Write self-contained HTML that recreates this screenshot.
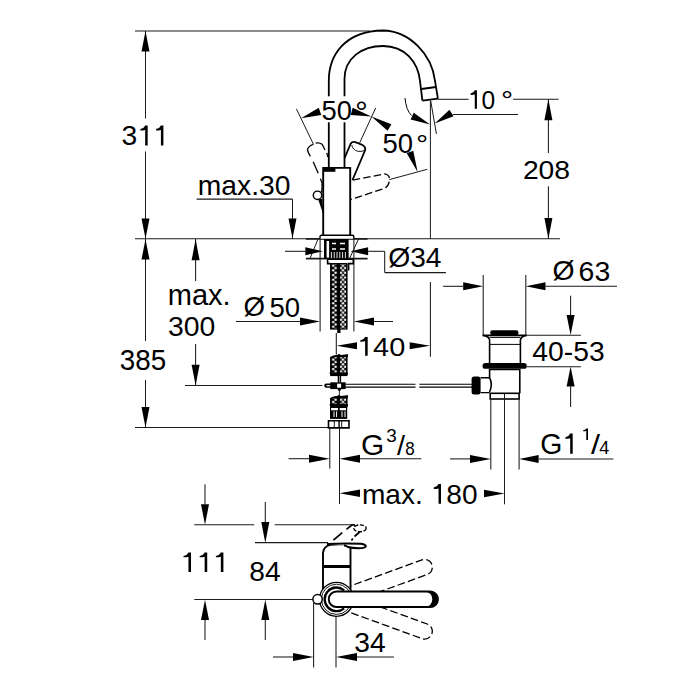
<!DOCTYPE html>
<html><head><meta charset="utf-8"><style>
html,body{margin:0;padding:0;background:#fff;width:700px;height:700px;overflow:hidden}
svg{display:block}
text{font-family:"Liberation Sans",sans-serif;fill:#000;stroke:none}
</style></head><body>
<svg width="700" height="700" viewBox="0 0 700 700" stroke="#000" fill="none">
<defs><pattern id="dots" width="30" height="4.7" patternUnits="userSpaceOnUse" x="330.3" y="264.5"><g fill="#fff" stroke="none"><circle cx="2.9" cy="1.2" r="1.25"/><circle cx="5.4" cy="3.55" r="1.25"/><circle cx="10.6" cy="3.55" r="1.25"/><circle cx="12.7" cy="1.2" r="1.25"/><circle cx="14.9" cy="3.55" r="1.25"/></g></pattern></defs>
<rect width="700" height="700" fill="#fff" stroke="none"/>
<line x1="135" y1="31" x2="370" y2="31" stroke-width="1.05" stroke="#1a1a1a" />
<line x1="135" y1="238.8" x2="560" y2="238.8" stroke-width="1.05" stroke="#1a1a1a" />
<line x1="145.5" y1="31" x2="145.5" y2="118.5" stroke-width="1.05" stroke="#1a1a1a" />
<line x1="145.5" y1="151.5" x2="145.5" y2="239" stroke-width="1.05" stroke="#1a1a1a" />
<polygon points="145.50,31.00 149.50,51.50 141.50,51.50" stroke="none" fill="#000"/>
<polygon points="145.50,238.80 141.50,218.50 149.50,218.50" stroke="none" fill="#000"/>
<line x1="145.5" y1="239" x2="145.5" y2="341" stroke-width="1.05" stroke="#1a1a1a" />
<line x1="145.5" y1="380" x2="145.5" y2="427.5" stroke-width="1.05" stroke="#1a1a1a" />
<polygon points="145.50,239.20 149.50,259.50 141.50,259.50" stroke="none" fill="#000"/>
<polygon points="145.50,427.50 141.50,407.00 149.50,407.00" stroke="none" fill="#000"/>
<line x1="135" y1="427.5" x2="329" y2="427.5" stroke-width="1.05" stroke="#1a1a1a" />
<line x1="195.6" y1="239" x2="195.6" y2="281" stroke-width="1.05" stroke="#1a1a1a" />
<line x1="195.6" y1="344" x2="195.6" y2="385.3" stroke-width="1.05" stroke="#1a1a1a" />
<polygon points="195.60,239.20 199.60,260.30 191.60,260.30" stroke="none" fill="#000"/>
<polygon points="195.60,385.30 191.60,364.70 199.60,364.70" stroke="none" fill="#000"/>
<line x1="185" y1="385.5" x2="322.4" y2="385.5" stroke-width="1.05" stroke="#1a1a1a" />
<line x1="196.6" y1="199.1" x2="292.5" y2="199.1" stroke-width="1.05" stroke="#1a1a1a" />
<line x1="292.5" y1="199.1" x2="292.5" y2="238.8" stroke-width="1.05" stroke="#1a1a1a" />
<polygon points="292.50,238.60 288.50,218.60 296.50,218.60" stroke="none" fill="#000"/>
<line x1="437.9" y1="99.3" x2="468.6" y2="99.3" stroke-width="1.05" stroke="#1a1a1a" />
<line x1="513.1" y1="99.3" x2="558.6" y2="99.3" stroke-width="1.05" stroke="#1a1a1a" />
<line x1="548.4" y1="99.3" x2="548.4" y2="152.9" stroke-width="1.05" stroke="#1a1a1a" />
<line x1="548.4" y1="186.3" x2="548.4" y2="238.8" stroke-width="1.05" stroke="#1a1a1a" />
<polygon points="548.40,99.30 552.40,120.30 544.40,120.30" stroke="none" fill="#000"/>
<polygon points="548.40,238.80 544.40,218.00 552.40,218.00" stroke="none" fill="#000"/>
<line x1="453" y1="114.4" x2="518" y2="114.4" stroke-width="1.05" stroke="#1a1a1a" />
<line x1="430.4" y1="100.7" x2="430.4" y2="238.8" stroke-width="1.0" stroke="#1a1a1a" />
<line x1="430.7" y1="100.7" x2="436.4" y2="133.9" stroke-width="1.0" stroke="#1a1a1a" />
<polygon points="430.10,124.40 410.64,119.61 413.76,112.79" stroke="none" fill="#000"/>
<polygon points="434.70,123.60 449.50,109.83 453.50,116.17" stroke="none" fill="#000"/>
<path d="M405,98 Q406,110 411.5,115.5" stroke-width="1.0" fill="none" />
<path d="M328.8,168 V81 C328.8,55 345,31 383,30.5 C410,31 432,55 435,81 L437.9,98.7" stroke-width="1.8" fill="none" />
<path d="M344.5,167.5 V79 C344.5,58 362,46 383,46 C405,46 418,62 420,81 L422.4,100.7" stroke-width="1.8" fill="none" />
<path d="M421.5,89 L436,87 M422.4,100.7 L437.9,98.7" stroke-width="1.8" fill="none" />
<rect x="326" y="96.3" width="22" height="26" rx="0" fill="#fff" stroke="none" />
<path d="M323.2,235.3 V167.9 H350.2 V235.3" stroke-width="1.9" fill="none" />
<rect x="323.2" y="167.2" width="12.2" height="4.6" rx="0" fill="#000" stroke="none" />
<path d="M310.4,156.4 Q306,149.5 308.5,147.5 Q310,145.3 312.9,144.3 M315.7,143.2 Q319,142 322.1,144.3 L325,150 M326.8,152.9 L327.9,157.1 M313.2,161.8 L318.2,173.2 M320.4,178.6 L322.5,184.3" stroke-width="1.3" fill="none" />
<circle cx="317.5" cy="195.3" r="4.2" stroke-width="1.4" fill="#fff"/>
<path d="M321.3,192.5 Q322.3,190 322,184" stroke-width="1.3" fill="none" />
<polygon points="318.2,199.4 322,198.8 323.5,215" fill="#000" stroke="none"/>
<path d="M344.6,158 L350.7,143.6 Q352.5,141.2 356,142.3 L362.5,145 Q366.2,147.2 365,150.5 L352.5,180" stroke-width="1.8" fill="none" />
<path d="M351.8,145 Q352.5,150 358,151.3 Q362.5,152 365,150" stroke-width="0.9" fill="none" />
<path d="M352.7,180.2 L384.8,173.8 Q390.5,175 389.3,181 Q388.5,187 383.6,188.6 L350.8,199.5" stroke-width="1.3" fill="none" stroke-dasharray="7.5,3.2"/>
<line x1="389.3" y1="179.6" x2="427.3" y2="169.3" stroke-width="1.0" stroke="#1a1a1a" />
<polygon points="417.60,171.90 406.73,153.25 413.27,150.75" stroke="none" fill="#000"/>
<line x1="296.4" y1="108.9" x2="313.6" y2="144.6" stroke-width="1.0" stroke="#1a1a1a" />
<polygon points="301.10,118.20 318.73,107.87 321.27,114.93" stroke="none" fill="#000"/>
<line x1="375.7" y1="107.9" x2="359.3" y2="143.6" stroke-width="1.0" stroke="#1a1a1a" />
<polygon points="371.40,116.40 350.78,115.03 352.62,107.77" stroke="none" fill="#000"/>
<polygon points="371.40,116.40 391.46,124.30 387.54,130.70" stroke="none" fill="#000"/>
<line x1="305.9" y1="238.8" x2="367.6" y2="238.8" stroke-width="1.8" stroke="#1a1a1a" />
<line x1="305.9" y1="258.7" x2="367.6" y2="258.7" stroke-width="1.8" stroke="#1a1a1a" />
<line x1="309.9" y1="258.7" x2="317.9" y2="239.3" stroke-width="1.0" stroke="#1a1a1a" />
<line x1="349.5" y1="258.7" x2="358.4" y2="239.3" stroke-width="1.0" stroke="#1a1a1a" />
<line x1="285" y1="251.3" x2="305.3" y2="251.3" stroke-width="1.05" stroke="#1a1a1a" />
<polygon points="323.00,251.30 305.30,255.30 305.30,247.30" stroke="none" fill="#000"/>
<polygon points="350.40,251.30 368.10,247.30 368.10,255.30" stroke="none" fill="#000"/>
<line x1="368.1" y1="251.3" x2="384.7" y2="251.3" stroke-width="1.05" stroke="#1a1a1a" />
<line x1="384.7" y1="251.3" x2="384.7" y2="272.6" stroke-width="1.05" stroke="#1a1a1a" />
<line x1="384.7" y1="272.6" x2="445.9" y2="272.6" stroke-width="1.05" stroke="#1a1a1a" />
<line x1="320.1" y1="239" x2="320.1" y2="331.5" stroke-width="1.05" stroke="#1a1a1a" />
<line x1="353.9" y1="239" x2="353.9" y2="331.5" stroke-width="1.05" stroke="#1a1a1a" />
<path d="M320,238.7 V236.5 Q320,235.3 321.5,235.3 H352.4 Q353.8,235.3 353.8,236.5 V238.7" stroke-width="1.4" fill="#fff" />
<rect x="324" y="239" width="24.6" height="19.6" rx="0" fill="#000" stroke="none" />
<rect x="326.6" y="241" width="2.5" height="16.6" rx="0" fill="#fff" stroke="none" />
<path d="M332,243.5 H336 M340,243.5 H345 M332,249 H336 M340,249 H345" stroke-width="1.3" fill="none" stroke="#fff"/>
<path d="M331.4,252 V258.3 M334.2,252 V258.3 M337,252 V258.3 M339.8,252 V258.3 M342.6,252 V258.3 M345.4,252 V258.3" stroke-width="0.9" fill="none" stroke="#fff"/>
<path d="M327.6,259.3 H353.3 V263.6 H348.6 V270.4 M327.6,259.3 V263.6 H330.4" stroke-width="1.6" fill="none" />
<rect x="330.3" y="263.6" width="17" height="65.39999999999998" rx="0" fill="#000" stroke="none" />
<rect x="330.3" y="263.6" width="17" height="65.39999999999998" rx="0" fill="url(#dots)" stroke="none" />
<rect x="337.4" y="263.6" width="2.6" height="65.39999999999998" rx="0" fill="#000" stroke="none" />
<rect x="330.8" y="263.6" width="16" height="65.39999999999998" fill="none" stroke-width="1.2"/>
<rect x="337.2" y="329" width="3.3" height="4" rx="0" fill="#000" stroke="none" />
<rect x="330.3" y="355" width="17" height="20.5" rx="0" fill="#000" stroke="none" />
<rect x="330.3" y="355" width="17" height="20.5" rx="0" fill="url(#dots)" stroke="none" />
<rect x="337.4" y="355" width="2.6" height="20.5" rx="0" fill="#000" stroke="none" />
<rect x="330.8" y="355" width="16" height="20.5" fill="none" stroke-width="1.2"/>
<path d="M329.7,357 Q334,354.5 337,355 Q339,353 341,355 Q344,354.5 347.9,354 V357.2 H329.7 Z" fill="#000" stroke="none"/>
<path d="M329.7,374.0 Q334,376.5 338,375.5 Q343,376.0 347.9,374.5 V372.5 H329.7 Z" fill="#000" stroke="none"/>
<path d="M329.7,357.2 Q334,354.5 337,355 Q339,353 341,355 Q344,354.5 347.9,354 V351 H329.7 Z" fill="#fff" stroke="none"/>
<rect x="330.3" y="396" width="17" height="11" rx="0" fill="#000" stroke="none" />
<rect x="330.3" y="396" width="17" height="11" rx="0" fill="url(#dots)" stroke="none" />
<rect x="337.4" y="396" width="2.6" height="11" rx="0" fill="#000" stroke="none" />
<rect x="330.8" y="396" width="16" height="11" fill="none" stroke-width="1.2"/>
<path d="M329.7,398 Q334,395.5 337,396 Q339,394 341,396 Q344,395.5 347.9,395 V398.2 H329.7 Z" fill="#000" stroke="none"/>
<path d="M329.7,405.5 Q334,408 338,407 Q343,407.5 347.9,406 V404 H329.7 Z" fill="#000" stroke="none"/>
<path d="M329.7,398.2 Q334,395.5 337,396 Q339,394 341,396 Q344,395.5 347.9,395 V392 H329.7 Z" fill="#fff" stroke="none"/>
<rect x="330" y="406.3" width="17.2" height="12.6" rx="0" fill="#000" stroke="none" />
<rect x="331.1" y="408" width="6.9" height="2.3" rx="0" fill="#fff" stroke="none" />
<rect x="339.7" y="408" width="6.3" height="2.3" rx="0" fill="#fff" stroke="none" />
<path d="M334,411.4 V417.1 M336.6,411.4 V417.1 M342,411.4 V417.1 M345,411.4 V417.1" stroke-width="1.0" fill="none" stroke="#fff"/>
<path d="M328.5,420.8 H349 V427.9 H328.5 Z" stroke-width="1.6" fill="#fff" />
<path d="M334.3,420.8 V427.9 M341.7,420.8 V427.9" stroke-width="0.9" fill="none" />
<path d="M339.1,420.8 V427.9" stroke-width="1.4" fill="none" />
<path d="M326.3,383.6 H331 V387.8 H326.3 A2.1,2.1 0 0 1 326.3,383.6 Z" fill="#000" stroke="none"/>
<rect x="326.5" y="385.1" width="4" height="1.2" rx="0" fill="#fff" stroke="none" />
<rect x="330.3" y="382.3" width="15.4" height="6.8" rx="0" fill="#000" stroke="none" />
<rect x="337.1" y="383.7" width="4" height="4" rx="0" fill="#fff" stroke="none" />
<rect x="337.7" y="375" width="3.4" height="7.5" rx="0" fill="#000" stroke="none" />
<rect x="339.1" y="376" width="0.6" height="6" rx="0" fill="#fff" stroke="none" />
<polygon points="337.6,389 341.2,389 339.4,392.3" fill="#000" stroke="none"/>
<line x1="339.4" y1="392" x2="339.4" y2="395.5" stroke-width="0.9" stroke="#1a1a1a" />
<line x1="236" y1="321.5" x2="300" y2="321.5" stroke-width="1.05" stroke="#1a1a1a" />
<polygon points="320.10,321.50 300.00,325.50 300.00,317.50" stroke="none" fill="#000"/>
<polygon points="353.90,321.50 374.00,317.50 374.00,325.50" stroke="none" fill="#000"/>
<line x1="374" y1="321.5" x2="393" y2="321.5" stroke-width="1.05" stroke="#1a1a1a" />
<line x1="336.3" y1="333" x2="336.3" y2="354.5" stroke-width="1.05" stroke="#1a1a1a" />
<polygon points="336.60,345.70 357.00,342.20 357.00,349.20" stroke="none" fill="#000"/>
<polygon points="430.10,345.70 409.70,349.20 409.70,342.20" stroke="none" fill="#000"/>
<line x1="430.4" y1="282" x2="430.4" y2="356.7" stroke-width="1.05" stroke="#1a1a1a" />
<line x1="329.8" y1="427.6" x2="329.8" y2="468.6" stroke-width="1.05" stroke="#1a1a1a" />
<line x1="339.5" y1="427.6" x2="339.5" y2="504" stroke-width="1.05" stroke="#1a1a1a" />
<path d="M345.4,384.2 H415.5 M345.4,387.1 H415.5 M419.3,384.2 H472 M419.3,387.1 H472" stroke-width="1.1" fill="none" />
<line x1="288.6" y1="458.7" x2="309" y2="458.7" stroke-width="1.05" stroke="#1a1a1a" />
<polygon points="329.80,458.70 309.00,462.70 309.00,454.70" stroke="none" fill="#000"/>
<polygon points="339.50,458.70 360.00,454.70 360.00,462.70" stroke="none" fill="#000"/>
<line x1="360" y1="458.7" x2="421.4" y2="458.7" stroke-width="1.05" stroke="#1a1a1a" />
<polygon points="339.50,493.30 360.00,489.55 360.00,497.05" stroke="none" fill="#000"/>
<polygon points="504.50,493.50 484.00,497.25 484.00,489.75" stroke="none" fill="#000"/>
<line x1="483.2" y1="275.1" x2="483.2" y2="335.4" stroke-width="1.05" stroke="#1a1a1a" />
<line x1="525.8" y1="275.1" x2="525.8" y2="335.4" stroke-width="1.05" stroke="#1a1a1a" />
<line x1="443.1" y1="286.3" x2="463.2" y2="286.3" stroke-width="1.05" stroke="#1a1a1a" />
<polygon points="483.20,286.30 463.20,290.30 463.20,282.30" stroke="none" fill="#000"/>
<polygon points="525.80,286.30 545.50,282.30 545.50,290.30" stroke="none" fill="#000"/>
<line x1="545.5" y1="286.3" x2="617" y2="286.3" stroke-width="1.05" stroke="#1a1a1a" />
<line x1="570.6" y1="295.7" x2="570.6" y2="315" stroke-width="1.05" stroke="#1a1a1a" />
<polygon points="570.60,335.00 566.60,315.00 574.60,315.00" stroke="none" fill="#000"/>
<polygon points="570.60,366.60 574.60,386.60 566.60,386.60" stroke="none" fill="#000"/>
<line x1="570.6" y1="386.6" x2="570.6" y2="407" stroke-width="1.05" stroke="#1a1a1a" />
<line x1="526.8" y1="335.2" x2="580.9" y2="335.2" stroke-width="1.05" stroke="#1a1a1a" />
<line x1="526.8" y1="366.7" x2="580.9" y2="366.7" stroke-width="1.05" stroke="#1a1a1a" />
<rect x="490.2" y="330.3" width="28.3" height="4.8" rx="2.2" fill="#000" stroke="none" />
<path d="M482.5,335.4 H526.8 Q521,336 520.4,340 V363 M482.5,335.4 Q489,336 489.6,340 V363" stroke-width="1.6" fill="none" />
<path d="M489.6,337.4 H520.4 M489.8,344.4 H520.2" stroke-width="1.0" fill="none" />
<rect x="482.5" y="363" width="44.3" height="5.8" rx="2.9" fill="#000" stroke="none" />
<path d="M489.6,368.8 V377.8 Q493,384 489.6,392 M519.8,368.8 V393.3 M489.6,369.5 H519.8" stroke-width="1.6" fill="none" />
<path d="M480.6,377.8 H489.6 M480.6,392.6 H489.6" stroke-width="1.4" fill="none" />
<rect x="471.6" y="376.6" width="9" height="18" rx="2.5" fill="#000" stroke="none" />
<rect x="490.2" y="393.3" width="28.9" height="5.7" rx="0" fill="#fff" stroke-width="1.6" />
<line x1="490.8" y1="399" x2="490.8" y2="469.4" stroke-width="1.05" stroke="#1a1a1a" />
<line x1="504.5" y1="393.3" x2="504.5" y2="504.3" stroke-width="1.05" stroke="#1a1a1a" />
<line x1="519.1" y1="399" x2="519.1" y2="469.4" stroke-width="1.05" stroke="#1a1a1a" />
<line x1="450" y1="458.9" x2="470" y2="458.9" stroke-width="1.05" stroke="#1a1a1a" />
<polygon points="490.80,458.90 470.00,462.90 470.00,454.90" stroke="none" fill="#000"/>
<polygon points="519.10,458.90 538.60,454.90 538.60,462.90" stroke="none" fill="#000"/>
<line x1="538.6" y1="458.9" x2="613.4" y2="458.9" stroke-width="1.05" stroke="#1a1a1a" />
<line x1="205" y1="484.3" x2="205" y2="504.3" stroke-width="1.05" stroke="#1a1a1a" />
<polygon points="205.00,524.70 201.00,504.30 209.00,504.30" stroke="none" fill="#000"/>
<line x1="194.3" y1="524.7" x2="254.3" y2="524.7" stroke-width="1.05" stroke="#1a1a1a" />
<line x1="274.7" y1="524.7" x2="355" y2="524.7" stroke-width="1.05" stroke="#1a1a1a" />
<line x1="265.3" y1="502.1" x2="265.3" y2="522" stroke-width="1.05" stroke="#1a1a1a" />
<polygon points="265.30,542.90 261.30,522.00 269.30,522.00" stroke="none" fill="#000"/>
<line x1="255" y1="542.6" x2="328" y2="542.6" stroke-width="1.05" stroke="#1a1a1a" />
<line x1="194.3" y1="599.4" x2="313" y2="599.4" stroke-width="1.05" stroke="#1a1a1a" />
<polygon points="205.00,599.70 209.00,620.00 201.00,620.00" stroke="none" fill="#000"/>
<polygon points="265.30,599.70 269.30,620.00 261.30,620.00" stroke="none" fill="#000"/>
<line x1="205" y1="620" x2="205" y2="640" stroke-width="1.05" stroke="#1a1a1a" />
<line x1="265.3" y1="620" x2="265.3" y2="640" stroke-width="1.05" stroke="#1a1a1a" />
<g transform="rotate(-20 336.5 599.2)"><path d="M336.5,591.5 H430.2 A7.75,7.75 0 0 1 430.2,607 H336.5" stroke-width="1.3" fill="none" stroke-dasharray="7.7,3.2"/></g>
<g transform="rotate(20 336.5 599.2)"><path d="M336.5,591.5 H430.2 A7.75,7.75 0 0 1 430.2,607 H336.5" stroke-width="1.3" fill="none" stroke-dasharray="7.7,3.2"/></g>
<path d="M323,593 V553 Q323.5,546.5 330,544.8 Q340,543.8 349,545 H350.5 V591" stroke-width="1.9" fill="#fff" />
<rect x="322.5" y="565" width="28.5" height="3" rx="0" fill="#000" stroke="none" />
<path d="M327,544 Q345,543 361,543.8 Q366.3,544.6 365.8,546.4 Q365,548.2 359,548.2 Q352,548.2 348,547 Q346,545.5 344,545.5" stroke-width="2.0" fill="#fff" />
<path d="M333.4,540.2 L342.3,532.6 M346.4,529.3 L352,525 M351.5,540.5 L352.8,538.6 M354.5,536.5 L359.6,532 M351.5,525 H355" stroke-width="1.7" fill="none" />
<ellipse cx="360" cy="528.3" rx="6.2" ry="3.4" stroke-width="1.4" fill="none" stroke-dasharray="4,1.6"/>
<circle cx="336.5" cy="599.3" r="17" stroke-width="1.3" fill="#fff"/>
<circle cx="336.5" cy="599.3" r="15.1" stroke-width="0.9" fill="none"/>
<path d="M336.5,591.5 H430.2 A7.75,7.75 0 0 1 430.2,607 H336.5 A7.75,7.75 0 0 1 336.5,591.5 Z" stroke-width="1.9" fill="#fff" />
<path d="M424,591.4 H430.3 A7.8,7.8 0 0 1 430.3,607 H424 Q432.3,606.5 432.3,599.2 Q432.3,592 424,591.4 Z" fill="#000" stroke="none"/>
<path d="M344.1,590.3 A11.8,11.8 0 1 0 344.1,608.3" stroke-width="2.3" fill="none" />
<circle cx="317.6" cy="599.3" r="4.7" stroke-width="1.5" fill="#fff"/>
<line x1="313.6" y1="603" x2="313.6" y2="667.6" stroke-width="1.05" stroke="#1a1a1a" />
<line x1="336" y1="616" x2="336" y2="667.6" stroke-width="1.05" stroke="#1a1a1a" />
<line x1="273" y1="657" x2="293" y2="657" stroke-width="1.05" stroke="#1a1a1a" />
<polygon points="313.60,657.00 293.00,661.00 293.00,653.00" stroke="none" fill="#000"/>
<polygon points="336.00,657.00 357.00,653.00 357.00,661.00" stroke="none" fill="#000"/>
<line x1="357" y1="657" x2="394" y2="657" stroke-width="1.05" stroke="#1a1a1a" />
<g transform="translate(121.54,145.42) scale(0.9932,1)"><text x="0.00" y="0" font-size="28.47">3</text><path d="M0.28,-0.703 L0.368,-0.703 L0.368,0 L0.28,0 L0.28,-0.545 Q0.2,-0.525 0.11,-0.527 L0.11,-0.578 Q0.24,-0.6 0.28,-0.703 Z" transform="translate(15.83,0) scale(28.471)" fill="#000" stroke="none"/><path d="M0.28,-0.703 L0.368,-0.703 L0.368,0 L0.28,0 L0.28,-0.545 Q0.2,-0.525 0.11,-0.527 L0.11,-0.578 Q0.24,-0.6 0.28,-0.703 Z" transform="translate(31.67,0) scale(28.471)" fill="#000" stroke="none"/></g>
<g transform="translate(119.86,370.41) scale(0.9689,1)"><text x="0.00" y="0" font-size="28.69">385</text></g>
<g transform="translate(167.74,304.61) scale(1.0055,1)"><text x="0.00" y="0" font-size="28.86">max.</text></g>
<g transform="translate(168.04,336.32) scale(1.0041,1)"><text x="0.00" y="0" font-size="28.27">300</text></g>
<g transform="translate(197.79,194.92) scale(1.0152,1)"><text x="0.00" y="0" font-size="27.84">max.30</text></g>
<g transform="translate(321.60,120.02) scale(0.9832,1)"><text x="0.00" y="0" font-size="27.84">50</text></g>
<g transform="translate(355.07,122.01) scale(1.0878,1)"><text x="0.00" y="0" font-size="29.55">°</text></g>
<g transform="translate(382.50,153.33) scale(1.0072,1)"><text x="0.00" y="0" font-size="27.28">50</text></g>
<g transform="translate(416.08,153.85) scale(1.1232,1)"><text x="0.00" y="0" font-size="27.03">°</text></g>
<g transform="translate(467.89,108.84) scale(0.9327,1)"><path d="M0.28,-0.703 L0.368,-0.703 L0.368,0 L0.28,0 L0.28,-0.545 Q0.2,-0.525 0.11,-0.527 L0.11,-0.578 Q0.24,-0.6 0.28,-0.703 Z" transform="translate(0.00,0) scale(26.367)" fill="#000" stroke="none"/><text x="14.66" y="0" font-size="26.37">0</text></g>
<g transform="translate(501.08,109.95) scale(1.1232,1)"><text x="0.00" y="0" font-size="27.03">°</text></g>
<g transform="translate(522.88,179.13) scale(1.0658,1)"><text x="0.00" y="0" font-size="26.57">208</text></g>
<g transform="translate(388.24,267.29) scale(0.9949,1)"><text x="0.00" y="0" font-size="28.51">Ø</text></g>
<g transform="translate(410.25,267.13) scale(1.0249,1)"><text x="0.00" y="0" font-size="27.42">34</text></g>
<g transform="translate(243.46,315.81) scale(0.9984,1)"><text x="0.00" y="0" font-size="27.70">Ø</text></g>
<g transform="translate(269.40,316.72) scale(0.9753,1)"><text x="0.00" y="0" font-size="28.27">50</text></g>
<g transform="translate(357.02,355.64) scale(1.0980,1)"><path d="M0.28,-0.703 L0.368,-0.703 L0.368,0 L0.28,0 L0.28,-0.545 Q0.2,-0.525 0.11,-0.527 L0.11,-0.578 Q0.24,-0.6 0.28,-0.703 Z" transform="translate(0.00,0) scale(26.367)" fill="#000" stroke="none"/><text x="14.66" y="0" font-size="26.37">40</text></g>
<g transform="translate(552.44,279.81) scale(1.0240,1)"><text x="0.00" y="0" font-size="27.70">Ø</text></g>
<g transform="translate(578.58,280.72) scale(1.0329,1)"><text x="0.00" y="0" font-size="27.56">63</text></g>
<g transform="translate(532.36,361.12) scale(0.9995,1)"><text x="0.00" y="0" font-size="28.27">40-53</text></g>
<g transform="translate(361.01,455.20) scale(1.0068,1)"><text x="0.00" y="0" font-size="29.68">G</text></g>
<g transform="translate(386.29,441.82) scale(1.0724,1)"><text x="0.00" y="0" font-size="17.67">3</text></g>
<g transform="translate(397.00,455.21) scale(1.0090,1)"><text x="0.00" y="0" font-size="28.57">/</text></g>
<g transform="translate(405.28,455.32) scale(0.9634,1)"><text x="0.00" y="0" font-size="17.67">8</text></g>
<g transform="translate(540.18,453.81) scale(0.9871,1)"><text x="0.00" y="0" font-size="28.75">G</text><path d="M0.28,-0.703 L0.368,-0.703 L0.368,0 L0.28,0 L0.28,-0.545 Q0.2,-0.525 0.11,-0.527 L0.11,-0.578 Q0.24,-0.6 0.28,-0.703 Z" transform="translate(22.36,0) scale(28.752)" fill="#000" stroke="none"/></g>
<g transform="translate(580.87,439.90) scale(1.1847,1)"><path d="M0.28,-0.703 L0.368,-0.703 L0.368,0 L0.28,0 L0.28,-0.545 Q0.2,-0.525 0.11,-0.527 L0.11,-0.578 Q0.24,-0.6 0.28,-0.703 Z" transform="translate(0.00,0) scale(16.358)" fill="#000" stroke="none"/></g>
<g transform="translate(591.00,453.71) scale(1.1351,1)"><text x="0.00" y="0" font-size="28.57">/</text></g>
<g transform="translate(599.19,453.60) scale(0.9832,1)"><text x="0.00" y="0" font-size="18.33">4</text></g>
<g transform="translate(361.90,503.72) scale(1.0026,1)"><text x="0.00" y="0" font-size="28.05">max. </text><path d="M0.28,-0.703 L0.368,-0.703 L0.368,0 L0.28,0 L0.28,-0.545 Q0.2,-0.525 0.11,-0.527 L0.11,-0.578 Q0.24,-0.6 0.28,-0.703 Z" transform="translate(68.58,0) scale(28.050)" fill="#000" stroke="none"/><text x="84.18" y="0" font-size="28.05">80</text></g>
<g transform="translate(180.30,572.10) scale(1.0390,1)"><path d="M0.28,-0.703 L0.368,-0.703 L0.368,0 L0.28,0 L0.28,-0.545 Q0.2,-0.525 0.11,-0.527 L0.11,-0.578 Q0.24,-0.6 0.28,-0.703 Z" transform="translate(0.00,0) scale(28.023)" fill="#000" stroke="none"/><path d="M0.28,-0.703 L0.368,-0.703 L0.368,0 L0.28,0 L0.28,-0.545 Q0.2,-0.525 0.11,-0.527 L0.11,-0.578 Q0.24,-0.6 0.28,-0.703 Z" transform="translate(15.59,0) scale(28.023)" fill="#000" stroke="none"/><path d="M0.28,-0.703 L0.368,-0.703 L0.368,0 L0.28,0 L0.28,-0.545 Q0.2,-0.525 0.11,-0.527 L0.11,-0.578 Q0.24,-0.6 0.28,-0.703 Z" transform="translate(31.17,0) scale(28.023)" fill="#000" stroke="none"/></g>
<g transform="translate(249.30,581.22) scale(0.9905,1)"><text x="0.00" y="0" font-size="28.41">84</text></g>
<g transform="translate(354.34,652.31) scale(0.9910,1)"><text x="0.00" y="0" font-size="28.55">34</text></g>
</svg></body></html>
